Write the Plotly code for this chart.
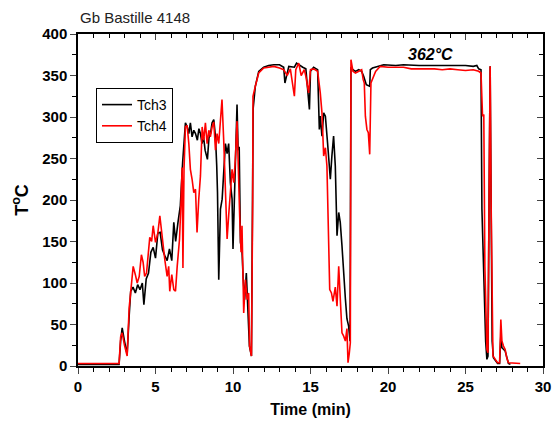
import plotly.graph_objects as go

# ---- data ----
t_ch3 = [0, 2.65, 2.75, 2.85, 3.0, 3.17, 3.3, 3.4, 3.55, 3.7, 3.85, 4.0, 4.15, 4.25, 4.4, 4.55, 4.7, 4.85,
         5.0, 5.15, 5.3, 5.45, 5.6, 5.75, 5.9, 6.05, 6.18, 6.3, 6.45, 6.6, 6.75, 6.93, 7.05, 7.15, 7.25,
         7.36, 7.47, 7.58, 7.7, 7.8, 7.9, 8.0, 8.1, 8.2, 8.35, 8.45, 8.55, 8.65, 8.76, 8.87, 8.95, 9.0,
         9.08, 9.19, 9.3, 9.4, 9.51, 9.62, 9.72, 9.83, 9.94, 10.0, 10.1, 10.2, 10.26, 10.33, 10.4, 10.48,
         10.58, 10.65, 10.75, 10.86, 10.95, 11.06, 11.19, 11.25, 11.3, 11.44, 11.66, 11.98, 12.3, 12.63,
         13.0, 13.27, 13.35, 13.6, 13.96, 14.1, 14.24, 14.5, 14.7, 14.93, 15.0, 15.2, 15.46, 15.57, 15.63,
         15.74, 15.85, 15.96, 16.1, 16.28, 16.38, 16.49, 16.6, 16.71, 16.82, 16.92, 17.03, 17.14, 17.25,
         17.35, 17.46, 17.55, 17.61, 17.74, 17.9, 18.11, 18.3, 18.43, 18.6, 18.82, 18.86, 19.0, 19.4,
         19.72, 20.5, 21.0, 22.0, 23.0, 24.0, 25.0, 25.5, 25.73, 25.85, 26.0, 26.06, 26.15, 26.3, 26.38,
         26.45, 26.52, 26.59, 26.65, 26.72, 26.8, 27.07, 27.2, 27.28, 27.35, 27.56, 27.77, 27.9]
T_ch3 = [2, 2, 30, 46, 30, 14, 60, 90, 95, 88, 98, 92, 100, 74, 105, 112, 137, 143,
         130, 160, 161, 140, 133, 127, 141, 127, 173, 150, 173, 193, 245, 293, 288, 280, 293,
         276, 284, 280, 272, 286, 280, 268, 276, 260, 249, 275, 280, 293, 297, 276, 241, 209,
         104, 189, 201, 241, 268, 256, 268, 221, 201, 141, 201, 280, 315, 260, 264, 149,
         139, 108, 80, 112, 80, 24, 12, 150, 310, 337, 355, 360, 362, 363,
         363, 360, 341, 361, 360, 365, 363, 360, 358, 309, 355, 360, 357, 285, 301,
         277, 305, 301, 269, 225, 253, 277, 241, 157, 185, 173, 145, 109, 81,
         57, 48, 30, 360, 357, 355, 357, 355, 349, 339, 337, 357, 359, 361,
         363, 362, 363, 362, 362, 362, 362, 361, 362, 358, 357, 189, 120, 30, 8,
         12, 200, 361, 200, 30, 10, 3, 3, 36, 22, 18, 3, 2]

t_ch4 = [0, 2.65, 2.75, 2.85, 3.0, 3.17, 3.3, 3.45, 3.56, 3.7, 3.82, 3.95, 4.09, 4.2, 4.3, 4.42, 4.55,
         4.63, 4.75, 4.85, 5.0, 5.15, 5.28, 5.4, 5.5, 5.6, 5.75, 5.85, 5.92, 6.05, 6.18, 6.29, 6.4, 6.55,
         6.65, 6.72, 6.77, 6.84, 6.93, 7.04, 7.15, 7.25, 7.36, 7.47, 7.58, 7.68, 7.79, 7.9, 8.01, 8.11,
         8.22, 8.33, 8.44, 8.54, 8.65, 8.76, 8.87, 8.97, 9.08, 9.19, 9.29, 9.4, 9.51, 9.62, 9.72, 9.83,
         9.94, 10.05, 10.15, 10.26, 10.37, 10.43, 10.52, 10.58, 10.69, 10.8, 10.91, 11.01, 11.07, 11.12,
         11.19, 11.27, 11.29, 11.44, 11.66, 11.98, 12.3, 12.63, 13.0, 13.27, 13.5, 13.7, 13.96, 14.05,
         14.24, 14.4, 14.6, 14.7, 14.88, 15.0, 15.2, 15.46, 15.63, 15.74, 15.85, 15.96, 16.06, 16.17,
         16.24, 16.35, 16.45, 16.6, 16.71, 16.82, 16.92, 17.03, 17.14, 17.25, 17.35, 17.42, 17.5, 17.57,
         17.61, 17.74, 17.9, 18.11, 18.3, 18.4, 18.47, 18.54, 18.64, 18.73, 18.82, 18.9, 19.0, 19.07,
         19.2, 19.4, 19.5, 20.0, 21.0, 21.5, 22.0, 23.0, 23.5, 24.0, 24.5, 25.0, 25.5, 25.85, 26.0,
         26.1, 26.18, 26.25, 26.38, 26.45, 26.52, 26.59, 26.65, 26.72, 26.77, 27.07, 27.2, 27.28, 27.35,
         27.45, 27.56, 27.66, 27.77, 28.53]
T_ch4 = [3, 3, 35, 40, 25, 12, 70, 100, 120, 110, 100, 108, 134, 125, 108, 112, 140,
         155, 150, 169, 149, 160, 181, 160, 145, 128, 108, 120, 90, 110, 92, 90, 120, 153,
         200, 239, 118, 237, 288, 290, 268, 237, 225, 209, 213, 161, 201, 229, 288, 272,
         293, 268, 284, 276, 288, 294, 260, 280, 268, 296, 321, 272, 201, 153, 181, 217,
         237, 221, 249, 295, 201, 181, 137, 169, 64, 104, 80, 88, 24, 16,
         12, 200, 325, 337, 353, 359, 360, 361, 359, 357, 350, 358, 325, 357,
         365, 350, 357, 349, 329, 357, 358, 355, 329, 305, 253, 263, 241, 141,
         92, 88, 78, 95, 72, 120, 80, 40, 36, 30, 45, 4, 15, 28,
         369, 355, 353, 355, 357, 345, 341, 301, 285, 281, 255, 341, 345, 349,
         355, 359, 361, 360, 360, 358, 358, 358, 357, 358, 357, 356, 357, 355, 353,
         301, 303, 120, 20, 16, 200, 361, 200, 40, 12, 4, 4, 56, 30,
         24, 20, 10, 4, 3]

series_names = ["Tch3", "Tch4"]
x_ticks = [0, 5, 10, 15, 20, 25, 30]
y_ticks = [0, 50, 100, 150, 200, 250, 300, 350, 400]
title_text = "Gb Bastille 4148"
note_text = "362°C"
note_x, note_y = 22.77, 375

FONT = "Arial, Liberation Sans, sans-serif"
W, H = 554, 421

fig = go.Figure()
fig.add_trace(go.Scatter(x=t_ch3, y=T_ch3, mode="lines", name=series_names[0],
                         line=dict(color="black", width=1.6)))
fig.add_trace(go.Scatter(x=t_ch4, y=T_ch4, mode="lines", name=series_names[1],
                         line=dict(color="#ff0000", width=1.6)))
# empty trace that anchors the mirrored top/right axes (inward ticks)
fig.add_trace(go.Scatter(x=[None], y=[None], xaxis="x2", yaxis="y2", showlegend=False,
                         hoverinfo="skip"))

tickfont = dict(family=FONT, size=15, color="black", weight="bold")

fig.update_layout(
    width=W, height=H,
    margin=dict(l=78, r=11, t=34, b=55, autoexpand=False),
    paper_bgcolor="white", plot_bgcolor="white",
    showlegend=True,
    legend=dict(x=(96 - 78) / 465, y=(366 - 88) / 332, xanchor="left", yanchor="top",
                bordercolor="black", borderwidth=1, bgcolor="white",
                font=dict(family=FONT, size=14, color="black"),
                tracegroupgap=0),
    title=dict(text=title_text, x=80 / W, xanchor="left", xref="container",
               y=1 - 18 / H, yanchor="middle", yref="container",
               font=dict(family=FONT, size=15, color="#222")),
    xaxis=dict(range=[0, 30], tickvals=x_ticks, ticks="outside", ticklen=6, tickwidth=1.3,
               showline=True, linecolor="black", linewidth=1.5, showgrid=False, zeroline=False,
               tickfont=tickfont, automargin=False, ticklabeloverflow="allow",
               minor=dict(dtick=1, ticks="outside", ticklen=4, tickwidth=1.1, tickcolor="black"),
               title=dict(text="Time (min)", font=dict(family=FONT, size=16, color="black", weight="bold"),
                          standoff=10)),
    yaxis=dict(range=[0, 400], tickvals=y_ticks, ticks="outside", ticklen=6, tickwidth=1.3,
               showline=True, linecolor="black", linewidth=1.5, showgrid=False, zeroline=False,
               tickfont=tickfont, automargin=False, ticklabeloverflow="allow",
               minor=dict(dtick=25, ticks="outside", ticklen=4, tickwidth=1.1, tickcolor="black"),
               title=dict(text="T<sup>o</sup>C", font=dict(family=FONT, size=18, color="black", weight="bold"),
                          standoff=9)),
    xaxis2=dict(range=[0, 30], overlaying="x", side="top", tickvals=x_ticks, ticks="inside",
                ticklen=6, tickwidth=1.3, showticklabels=False, showline=True, linecolor="black",
                linewidth=1.5, showgrid=False, zeroline=False, automargin=False,
                minor=dict(dtick=1, ticks="inside", ticklen=4, tickwidth=1.1, tickcolor="black")),
    yaxis2=dict(range=[0, 400], overlaying="y", side="right", tickvals=y_ticks, ticks="inside",
                ticklen=6, tickwidth=1.3, showticklabels=False, showline=True, linecolor="black",
                linewidth=1.5, showgrid=False, zeroline=False, automargin=False,
                minor=dict(dtick=25, ticks="inside", ticklen=4, tickwidth=1.1, tickcolor="black")),
    annotations=[dict(x=note_x, y=note_y, xref="x", yref="y", text=f"<b><i>{note_text}</i></b>",
                      showarrow=False, font=dict(family=FONT, size=16, color="black"))],
)

# remove the default 8px page margin so the 554x421 figure fills the window exactly
fig.write_html("out.html",
               config={"displayModeBar": False},
               post_script="document.body.style.margin='0';document.body.style.overflow='hidden';")
